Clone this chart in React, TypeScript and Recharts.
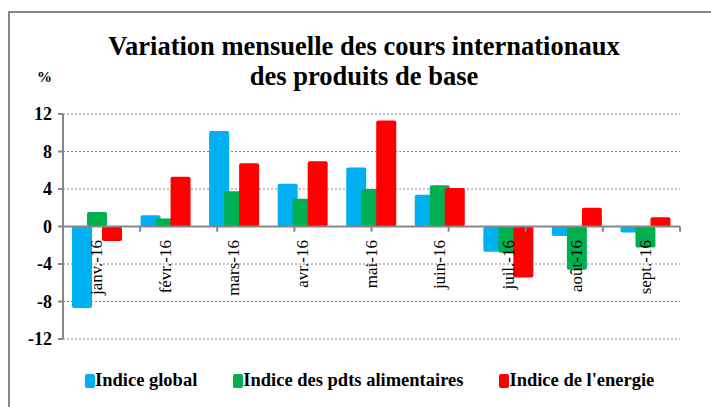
import React from "react";
import {
  BarChart,
  Bar,
  XAxis,
  YAxis,
  CartesianGrid,
  ReferenceLine,
} from "recharts";

const months = ["janv.-16", "févr.-16", "mars-16", "avr.-16", "mai-16", "juin-16", "juil.-16", "août-16", "sept.-16"];
const indiceGlobal = [-8.7, 1.2, 10.2, 4.55, 6.3, 3.4, -2.7, -1.0, -0.65];
const indiceAlimentaire = [1.55, 0.85, 3.75, 2.95, 4.0, 4.4, -2.8, -4.6, -2.25];
const indiceEnergie = [-1.55, 5.3, 6.75, 6.95, 11.3, 4.1, -5.45, 2.0, 1.0];
const yTicks = [-12, -8, -4, 0, 4, 8, 12];

const series = [
  { key: "global", name: "Indice global", color: "#00B0F0" },
  { key: "alim", name: "Indice des pdts alimentaires", color: "#00B050" },
  { key: "energie", name: "Indice de l'energie", color: "#FF0000" },
];

const data = months.map((m, i) => ({
  month: m,
  global: indiceGlobal[i],
  alim: indiceAlimentaire[i],
  energie: indiceEnergie[i],
}));

const W = 711;
const H = 407;
const TOP = 114;
const BOTTOM = 67;
const FONT = "Liberation Serif";
const AXIS = "#868686";

// y of the zero line, from the y domain
const plotH = H - TOP - BOTTOM;
const zeroY = TOP + (plotH * 12) / 24;

const MonthTick = (props: any) => {
  const { x, payload } = props;
  return (
    <text
      x={x + 5}
      y={zeroY + 13}
      transform={`rotate(-90, ${x + 5}, ${zeroY + 13})`}
      textAnchor="end"
      fontFamily={FONT}
      fontSize={17}
      fill="#000"
    >
      {payload.value}
    </text>
  );
};

const YTick = (props: any) => {
  const { x, y, payload } = props;
  return (
    <text x={x - 4} y={y} dy={6} textAnchor="end" fontFamily={FONT} fontWeight="bold" fontSize={18} fill="#000">
      {payload.value}
    </text>
  );
};

export default function App() {
  return (
    <div style={{ position: "fixed", left: 0, top: 0, width: W, height: H, overflow: "hidden", background: "#fff", fontFamily: FONT }}>
      <div
        style={{
          position: "absolute",
          left: 8,
          top: 11,
          width: 800,
          height: 500,
          border: `2px solid ${AXIS}`,
          boxSizing: "border-box",
        }}
      />
      <div
        style={{
          position: "absolute",
          left: 0,
          top: 31,
          width: 728,
          textAlign: "center",
          fontFamily: FONT,
          fontWeight: "bold",
          fontSize: 26.5,
          lineHeight: "30px",
        }}
      >
        Variation mensuelle des cours internationaux
        <br />
        des produits de base
      </div>
      <div style={{ position: "absolute", left: 37, top: 69, fontFamily: FONT, fontWeight: "bold", fontSize: 15 }}>%</div>
      <div style={{ position: "absolute", left: 0, top: 0 }}>
        <BarChart
          width={W}
          height={H}
          data={data}
          margin={{ top: TOP, right: 31, bottom: BOTTOM, left: 0 }}
          barSize={20}
          barGap={-5}
        >
          <CartesianGrid vertical={false} stroke={AXIS} strokeDasharray="2 2" />
          <XAxis dataKey="month" axisLine={false} tickLine={false} tick={<MonthTick />} interval={0} height={1} />
          <XAxis xAxisId="edges" type="number" domain={[0, 9]} hide />
          <YAxis
            domain={[-12, 12]}
            ticks={yTicks}
            width={63}
            axisLine={{ stroke: AXIS, strokeWidth: 2 }}
            tickLine={{ stroke: AXIS, strokeWidth: 2 }}
            tickSize={5}
            tick={<YTick />}
          />
          {series.map((s) => (
            <Bar key={s.key} dataKey={s.key} name={s.name} fill={s.color} radius={2} isAnimationActive={false} />
          ))}
          <ReferenceLine y={0} stroke={AXIS} strokeWidth={2} />
          {months.concat([""]).map((_, i) => (
            <ReferenceLine
              key={i}
              xAxisId="edges"
              segment={[{ x: i, y: 0 }, { x: i, y: -0.55 }]}
              stroke={AXIS}
              strokeWidth={2}
            />
          ))}
        </BarChart>
      </div>
      <div
        style={{
          position: "absolute",
          left: 85,
          top: 370,
          display: "flex",
          alignItems: "center",
          fontFamily: FONT,
          fontWeight: "bold",
          fontSize: 18.5,
        }}
      >
        {series.map((s, i) => (
          <div key={s.key} style={{ display: "flex", alignItems: "center", marginRight: i < 2 ? 36 : 0 }}>
            <span style={{ display: "inline-block", width: 10, height: 14, background: s.color, borderRadius: 2 }} />
            <span>{s.name}</span>
          </div>
        ))}
      </div>
    </div>
  );
}
